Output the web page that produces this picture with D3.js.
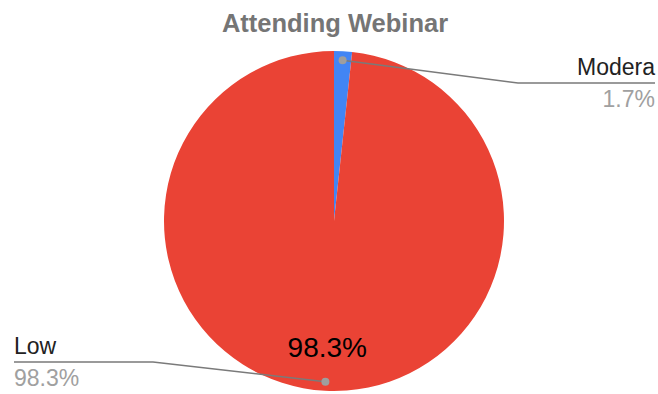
<!DOCTYPE html>
<html>
<head>
<meta charset="utf-8">
<script src="https://cdn.jsdelivr.net/npm/d3@7"></script>
<style>
  html, body { margin: 0; padding: 0; background: #fff; }
  svg { display: block; }
</style>
</head>
<body>
<svg id="chart" width="658" height="394"></svg>
<script>
// Attendance breakdown
const categories = ["Moderate", "Low"];
const shownNames = ["Modera", "Low"];
const values = [1.7, 98.3];
const colors = ["#4285f4", "#ea4335"];

const W = 658, H = 394;
const cx = 334, cy = 221, R = 170;
const font = "'Liberation Sans', Arial, sans-serif";

const svg = d3.select("#chart");

svg.append("text")
  .attr("x", 335).attr("y", 32)
  .attr("text-anchor", "middle")
  .attr("font-family", font)
  .attr("font-weight", "bold")
  .attr("font-size", 25.5)
  .attr("fill", "#757575")
  .text("Attending Webinar");

const data = categories.map((c, i) => ({ name: c, label: shownNames[i], value: values[i], color: colors[i] }));
const total = d3.sum(values);
const pct = v => d3.format(".1f")(v / total * 100) + "%";

const pie = d3.pie().sort(null).value(d => d.value);
const arcs = pie(data);
const arc = d3.arc().innerRadius(0).outerRadius(R);
const dotArc = d3.arc().innerRadius(161).outerRadius(161);
const innerLabelArc = d3.arc().innerRadius(126).outerRadius(126);

const g = svg.append("g").attr("transform", `translate(${cx},${cy})`);

g.selectAll("path.slice")
  .data(arcs)
  .join("path")
  .attr("class", "slice")
  .attr("d", arc)
  .attr("fill", d => d.data.color);

// percentage inside the large slice
arcs.filter(d => d.data.value / total > 0.05).forEach(d => {
  const [x, y] = innerLabelArc.centroid(d);
  g.append("text")
    .attr("x", x).attr("y", y + 10)
    .attr("text-anchor", "middle")
    .attr("font-family", font)
    .attr("font-size", 28)
    .attr("fill", "#000")
    .text(pct(d.data.value));
});

// leader lines and outside labels
const elbows = [
  { ex: 518, ey: 83, endX: 655, anchor: "end" },
  { ex: 153, ey: 362, endX: 14, anchor: "start" }
];

arcs.forEach((d, i) => {
  const [dx, dy] = dotArc.centroid(d);
  const px = cx + dx, py = cy + dy;
  const e = elbows[i];
  svg.append("polyline")
    .attr("points", `${px},${py} ${e.ex},${e.ey} ${e.endX},${e.ey}`)
    .attr("fill", "none")
    .attr("stroke", "#7a7a7a")
    .attr("stroke-width", 1.5);
  svg.append("circle")
    .attr("cx", px).attr("cy", py).attr("r", 4)
    .attr("fill", "#9e9e9e");
  svg.append("text")
    .attr("x", e.endX).attr("y", e.ey - 8)
    .attr("text-anchor", e.anchor)
    .attr("font-family", font)
    .attr("font-size", 23)
    .attr("fill", "#222")
    .text(d.data.label);
  svg.append("text")
    .attr("x", e.endX).attr("y", e.ey + 24)
    .attr("text-anchor", e.anchor)
    .attr("font-family", font)
    .attr("font-size", 23)
    .attr("fill", "#a0a0a0")
    .text(pct(d.data.value));
});
</script>
</body>
</html>
